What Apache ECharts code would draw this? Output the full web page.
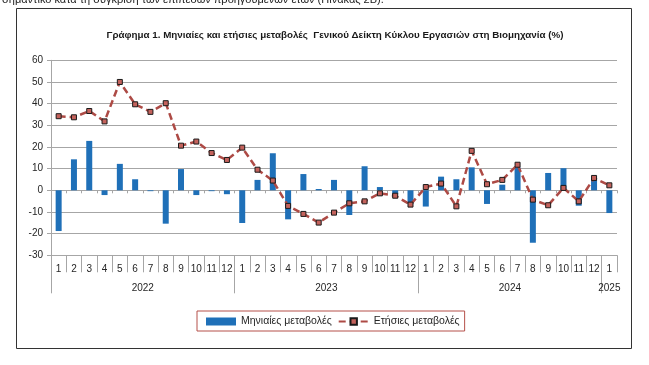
<!DOCTYPE html>
<html>
<head>
<meta charset="utf-8">
<script src="https://cdn.jsdelivr.net/npm/echarts@6/dist/echarts.min.js"></script>
<style>
html,body{margin:0;padding:0;background:#fff;}
#c{width:649px;height:365px;}
</style>
</head>
<body>
<div id="c"></div>
<script>
var monthLabels = ['1','2','3','4','5','6','7','8','9','10','11','12',
                   '1','2','3','4','5','6','7','8','9','10','11','12',
                   '1','2','3','4','5','6','7','8','9','10','11','12',
                   '1'];
var yearLabels = ['2022','2023','2024','2025'];
var yearLabelPos = [6, 18, 30, 36.5];
var yearBoundaries = [0, 12, 24, 36];
var monthly = [-18.8, 14.3, 22.8, -2.2, 12.2, 5.1, -0.4, -15.4, 9.8, -2.2, -0.4, -1.8,
               -15.1, 4.8, 17.1, -13.4, 7.5, 0.6, 4.8, -11.4, 11.1, 1.5, -1.7, -6.3,
               -7.5, 6.3, 5.1, 10.6, -6.3, 2.6, 10.6, -24.2, 8.0, 10.2, -7.1, 5.5,
               -10.5];
var annual = [34.2, 33.7, 36.6, 31.8, 50.0, 39.7, 36.2, 40.2, 20.6, 22.5, 17.2, 14.0,
              19.7, 9.5, 4.5, -7.2, -10.9, -14.9, -10.3, -6.0, -5.1, -1.4, -2.5, -6.6,
              1.5, 3.1, -7.4, 18.2, 2.8, 4.8, 11.8, -4.3, -6.9, 1.1, -5.1, 5.7,
              2.3];
var yTicks = {min: -30, max: 60, interval: 10};
var titleText = 'Γράφημα 1. Μηνιαίες και ετήσιες μεταβολές  Γενικού Δείκτη Κύκλου Εργασιών στη Βιομηχανία (%)';
var seriesNames = ['Μηνιαίες μεταβολές', 'Ετήσιες μεταβολές'];

var FONT = '"Liberation Sans", sans-serif';
var chart = echarts.init(document.getElementById('c'), null, {renderer: 'canvas'});
var axisGray = '#a6a6a6';
chart.setOption({
  animation: false,
  backgroundColor: '#fff',
  textStyle: {fontFamily: FONT},
  title: {
    text: titleText,
    left: 330, top: 25, textAlign: 'center',
    textStyle: {fontFamily: FONT, fontSize: 9.8, fontWeight: 'bold', color: '#1a1a1a'}
  },
  graphic: [
    {type: 'rect', silent: true, shape: {x: 16.5, y: 8.5, width: 615, height: 340},
     style: {fill: 'none', stroke: '#333', lineWidth: 1}},
    {type: 'text', silent: true, left: 2, top: -6,
     style: {text: 'σημαντικό κατά τη σύγκριση των επιπέδων προηγούμενων ετών (Πίνακας 2Β).',
             font: '11px ' + FONT, fill: '#222'}}
  ],
  legend: {
    left: 197, top: 311,
    padding: [5, 5, 4, 9],
    itemGap: 6,
    itemWidth: 30, itemHeight: 8,
    borderColor: '#b5504a', borderWidth: 1,
    textStyle: {fontFamily: FONT, fontSize: 10.5, color: '#262626'},
    data: [
      {name: seriesNames[0], icon: 'rect'},
      {name: seriesNames[1]}
    ]
  },
  grid: {left: 51, right: 32, top: 60.3, bottom: 109.7, containLabel: false},
  xAxis: [
    {
      type: 'category', data: monthLabels, position: 'bottom',
      axisLine: {onZero: false, lineStyle: {color: axisGray}},
      axisTick: {show: true, interval: 0, length: 17, lineStyle: {color: axisGray}},
      axisLabel: {interval: 0, margin: 9, fontSize: 10, color: '#262626', fontFamily: FONT},
      splitLine: {show: false}
    },
    {
      type: 'value', min: 0, max: 37, position: 'bottom',
      axisLine: {show: false, onZero: false},
      axisTick: {show: true, length: 38, customValues: yearBoundaries, lineStyle: {color: axisGray}},
      axisLabel: {customValues: yearLabelPos, margin: 28, fontSize: 10, color: '#262626', fontFamily: FONT,
        formatter: function (v) { var i = yearLabelPos.indexOf(v); return i >= 0 ? yearLabels[i] : ''; }},
      splitLine: {show: false}
    },
    {
      type: 'category', data: monthLabels, position: 'bottom',
      axisLine: {show: true, onZero: true, lineStyle: {color: axisGray}},
      axisTick: {show: true, interval: 0, length: 3, lineStyle: {color: axisGray}},
      axisLabel: {show: false},
      splitLine: {show: false}
    }
  ],
  yAxis: {
    type: 'value', min: yTicks.min, max: yTicks.max, interval: yTicks.interval,
    axisLine: {show: true, lineStyle: {color: axisGray}},
    axisTick: {show: true, length: 4, lineStyle: {color: axisGray}},
    axisLabel: {fontSize: 10, color: '#262626', margin: 8, fontFamily: FONT},
    splitLine: {show: true, lineStyle: {color: axisGray, width: 1}}
  },
  series: [
    {
      name: seriesNames[0], type: 'bar', xAxisIndex: 0, data: monthly,
      barWidth: 6,
      itemStyle: {color: '#1f70b8'}
    },
    {
      name: seriesNames[1], type: 'line', xAxisIndex: 0, data: annual,
      symbol: 'rect', symbolSize: 5, showSymbol: true,
      lineStyle: {color: '#ad4a45', width: 2.5, type: [7, 4]},
      itemStyle: {color: '#c4625c', borderColor: '#1a1a1a', borderWidth: 1},
      z: 5
    }
  ]
});
</script>
</body>
</html>
